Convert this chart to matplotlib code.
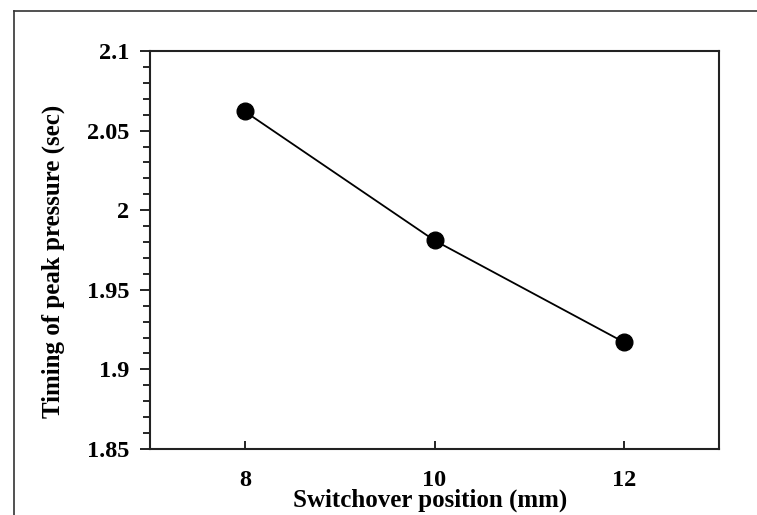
import matplotlib.pyplot as plt
from matplotlib.lines import Line2D
from matplotlib.ticker import MultipleLocator

# data
switchover = [8, 10, 12]
peak_timing = [2.062, 1.981, 1.917]
x_ticks = [8, 10, 12]
y_ticks = [1.85, 1.9, 1.95, 2.0, 2.05, 2.1]
y_tick_labels = ['1.85', '1.9', '1.95', '2', '2.05', '2.1']

plt.rcParams['font.family'] = ['Liberation Serif', 'DejaVu Serif']
plt.rcParams['font.weight'] = 'bold'

W, H = 757, 515
fig = plt.figure(figsize=(W / 100, H / 100), dpi=100)

# plot area in pixels: left 150, right 719, top 51, bottom 449
ax = fig.add_axes([150 / W, 1 - 449 / H, (719 - 150) / W, (449 - 51) / H])

ax.plot(switchover, peak_timing, color='black', linewidth=1.3,
        marker='o', markersize=12, markerfacecolor='black', zorder=3)

ax.set_xlim(7, 13)
ax.set_ylim(1.85, 2.1)
ax.set_xticks(x_ticks)
ax.set_yticks(y_ticks)
ax.set_yticklabels(y_tick_labels)
ax.yaxis.set_minor_locator(MultipleLocator(0.01))

ax.tick_params(axis='x', direction='in', length=6, width=1.2, labelsize=17.5, pad=15)
ax.tick_params(axis='y', which='major', direction='out', length=7, width=1.2, labelsize=17.5, pad=8)
ax.tick_params(axis='y', which='minor', direction='out', length=5, width=1.2)

for s in ax.spines.values():
    s.set_linewidth(1.5)
    s.set_color('#222222')

ax.set_xlabel('Switchover position (mm)', fontsize=18, fontweight='bold')
ax.set_ylabel('Timing of peak pressure (sec)', fontsize=18, fontweight='bold')
ax.xaxis.set_label_coords(0.492, -0.099)
ax.yaxis.set_label_coords(-0.15, 0.472)

# outer frame, cropped at the right and bottom
fig.add_artist(Line2D([14 / W, 14 / W], [0, 1 - 11 / H], transform=fig.transFigure,
                      color='#333333', linewidth=1.2))
fig.add_artist(Line2D([14 / W, 1], [1 - 11 / H, 1 - 11 / H], transform=fig.transFigure,
                      color='#333333', linewidth=1.2))

fig.savefig('out.png', dpi=100)
